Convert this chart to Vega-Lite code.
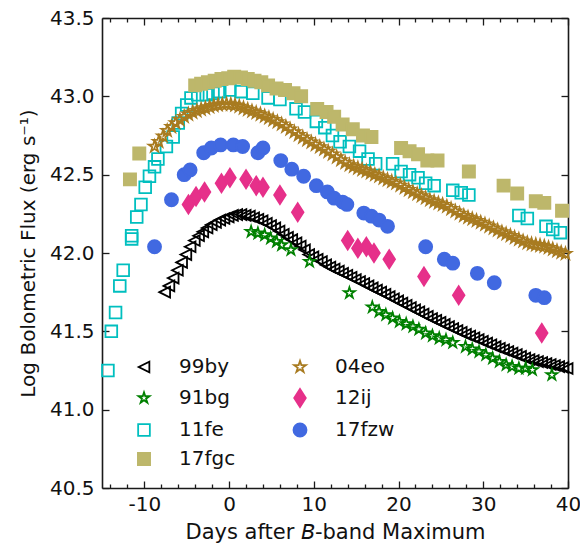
{
  "$schema": "https://vega.github.io/schema/vega-lite/v6.json",
  "width": 466,
  "height": 470,
  "autosize": {"type": "none"},
  "padding": {"left": 102, "top": 18, "right": 12, "bottom": 57},
  "background": "white",
  "data": {
    "values": [
      {"sn":"99by","t":-7.6,"L":41.75},{"sn":"99by","t":-7.1,"L":41.79},{"sn":"99by","t":-6.6,"L":41.84},{"sn":"99by","t":-6.1,"L":41.89},
      {"sn":"99by","t":-5.6,"L":41.94},{"sn":"99by","t":-5.1,"L":41.99},{"sn":"99by","t":-4.6,"L":42.04},{"sn":"99by","t":-4.1,"L":42.08},
      {"sn":"99by","t":-3.6,"L":42.11},{"sn":"99by","t":-3.1,"L":42.135},{"sn":"99by","t":-2.6,"L":42.16},{"sn":"99by","t":-2.1,"L":42.18},
      {"sn":"99by","t":-1.6,"L":42.195},{"sn":"99by","t":-1.1,"L":42.21},{"sn":"99by","t":-0.6,"L":42.22},{"sn":"99by","t":-0.1,"L":42.23},
      {"sn":"99by","t":0.4,"L":42.24},{"sn":"99by","t":0.9,"L":42.245},{"sn":"99by","t":1.4,"L":42.245},{"sn":"99by","t":1.9,"L":42.24},
      {"sn":"99by","t":2.4,"L":42.235},{"sn":"99by","t":2.9,"L":42.225},{"sn":"99by","t":3.4,"L":42.215},{"sn":"99by","t":3.9,"L":42.205},
      {"sn":"99by","t":4.4,"L":42.19},{"sn":"99by","t":4.9,"L":42.175},{"sn":"99by","t":5.4,"L":42.16},{"sn":"99by","t":5.9,"L":42.14},
      {"sn":"99by","t":6.4,"L":42.12},{"sn":"99by","t":6.9,"L":42.1},{"sn":"99by","t":7.4,"L":42.085},{"sn":"99by","t":7.9,"L":42.065},
      {"sn":"99by","t":8.4,"L":42.045},{"sn":"99by","t":8.9,"L":42.02},{"sn":"99by","t":9.4,"L":41.99},{"sn":"99by","t":9.9,"L":41.975},
      {"sn":"99by","t":10.4,"L":41.96},{"sn":"99by","t":10.9,"L":41.945},{"sn":"99by","t":11.4,"L":41.925},{"sn":"99by","t":11.9,"L":41.91},
      {"sn":"99by","t":12.4,"L":41.897},{"sn":"99by","t":12.9,"L":41.884},{"sn":"99by","t":13.4,"L":41.871},{"sn":"99by","t":13.9,"L":41.858},
      {"sn":"99by","t":14.4,"L":41.845},{"sn":"99by","t":14.9,"L":41.831},{"sn":"99by","t":15.4,"L":41.818},{"sn":"99by","t":15.9,"L":41.805},
      {"sn":"99by","t":16.4,"L":41.79},{"sn":"99by","t":16.9,"L":41.777},{"sn":"99by","t":17.4,"L":41.763},{"sn":"99by","t":17.9,"L":41.75},
      {"sn":"99by","t":18.4,"L":41.736},{"sn":"99by","t":18.9,"L":41.722},{"sn":"99by","t":19.4,"L":41.708},{"sn":"99by","t":19.9,"L":41.694},
      {"sn":"99by","t":20.4,"L":41.68},{"sn":"99by","t":20.9,"L":41.666},{"sn":"99by","t":21.4,"L":41.652},{"sn":"99by","t":21.9,"L":41.638},
      {"sn":"99by","t":22.4,"L":41.624},{"sn":"99by","t":22.9,"L":41.61},{"sn":"99by","t":23.4,"L":41.596},{"sn":"99by","t":23.9,"L":41.582},
      {"sn":"99by","t":24.4,"L":41.57},{"sn":"99by","t":24.9,"L":41.557},{"sn":"99by","t":25.4,"L":41.544},{"sn":"99by","t":25.9,"L":41.531},
      {"sn":"99by","t":26.4,"L":41.518},{"sn":"99by","t":26.9,"L":41.505},{"sn":"99by","t":27.4,"L":41.493},{"sn":"99by","t":27.9,"L":41.481},
      {"sn":"99by","t":28.4,"L":41.47},{"sn":"99by","t":28.9,"L":41.459},{"sn":"99by","t":29.4,"L":41.448},{"sn":"99by","t":29.9,"L":41.436},
      {"sn":"99by","t":30.4,"L":41.425},{"sn":"99by","t":30.9,"L":41.414},{"sn":"99by","t":31.4,"L":41.402},{"sn":"99by","t":31.9,"L":41.392},
      {"sn":"99by","t":32.4,"L":41.382},{"sn":"99by","t":32.9,"L":41.371},{"sn":"99by","t":33.4,"L":41.361},{"sn":"99by","t":33.9,"L":41.351},
      {"sn":"99by","t":34.4,"L":41.34},{"sn":"99by","t":34.9,"L":41.33},{"sn":"99by","t":35.4,"L":41.32},{"sn":"99by","t":35.9,"L":41.314},
      {"sn":"99by","t":36.4,"L":41.307},{"sn":"99by","t":36.9,"L":41.301},{"sn":"99by","t":37.4,"L":41.295},{"sn":"99by","t":37.9,"L":41.288},
      {"sn":"99by","t":38.4,"L":41.282},{"sn":"99by","t":38.9,"L":41.275},{"sn":"99by","t":39.4,"L":41.269},{"sn":"99by","t":39.9,"L":41.263},

      {"sn":"91bg","t":2.6,"L":42.136},{"sn":"91bg","t":3.4,"L":42.126},{"sn":"91bg","t":4.2,"L":42.115},{"sn":"91bg","t":4.9,"L":42.094},
      {"sn":"91bg","t":5.6,"L":42.073},{"sn":"91bg","t":6.2,"L":42.051},{"sn":"91bg","t":7.3,"L":42.02},{"sn":"91bg","t":9.5,"L":41.945},
      {"sn":"91bg","t":14.2,"L":41.745},{"sn":"91bg","t":16.9,"L":41.654},{"sn":"91bg","t":17.7,"L":41.626},{"sn":"91bg","t":18.5,"L":41.605},
      {"sn":"91bg","t":19.3,"L":41.584},{"sn":"91bg","t":20.1,"L":41.562},{"sn":"91bg","t":20.9,"L":41.547},{"sn":"91bg","t":21.7,"L":41.53},
      {"sn":"91bg","t":22.4,"L":41.513},{"sn":"91bg","t":23.2,"L":41.488},{"sn":"91bg","t":24.0,"L":41.471},{"sn":"91bg","t":24.8,"L":41.456},
      {"sn":"91bg","t":25.6,"L":41.445},{"sn":"91bg","t":26.4,"L":41.428},{"sn":"91bg","t":27.9,"L":41.402},{"sn":"91bg","t":28.7,"L":41.386},
      {"sn":"91bg","t":29.5,"L":41.37},{"sn":"91bg","t":30.3,"L":41.35},{"sn":"91bg","t":31.1,"L":41.328},{"sn":"91bg","t":31.9,"L":41.307},
      {"sn":"91bg","t":32.7,"L":41.286},{"sn":"91bg","t":33.4,"L":41.275},{"sn":"91bg","t":34.2,"L":41.264},{"sn":"91bg","t":35.0,"L":41.264},
      {"sn":"91bg","t":35.8,"L":41.254},{"sn":"91bg","t":38.1,"L":41.222},

      {"sn":"11fe","t":-14.3,"L":41.25},{"sn":"11fe","t":-13.9,"L":41.5},{"sn":"11fe","t":-13.4,"L":41.62},{"sn":"11fe","t":-12.9,"L":41.79},
      {"sn":"11fe","t":-12.5,"L":41.89},{"sn":"11fe","t":-11.5,"L":42.09},{"sn":"11fe","t":-11.5,"L":42.11},{"sn":"11fe","t":-10.9,"L":42.23},
      {"sn":"11fe","t":-10.4,"L":42.31},{"sn":"11fe","t":-9.9,"L":42.42},{"sn":"11fe","t":-9.4,"L":42.49},{"sn":"11fe","t":-8.8,"L":42.55},
      {"sn":"11fe","t":-8.4,"L":42.6},{"sn":"11fe","t":-7.4,"L":42.68},{"sn":"11fe","t":-6.6,"L":42.74},{"sn":"11fe","t":-6.0,"L":42.83},
      {"sn":"11fe","t":-5.6,"L":42.89},{"sn":"11fe","t":-5.0,"L":42.945},{"sn":"11fe","t":-4.5,"L":42.99},{"sn":"11fe","t":-3.7,"L":43.01},
      {"sn":"11fe","t":-2.7,"L":43.01},{"sn":"11fe","t":-1.9,"L":43.02},{"sn":"11fe","t":-1.1,"L":43.03},{"sn":"11fe","t":0.1,"L":43.04},
      {"sn":"11fe","t":1.4,"L":43.03},{"sn":"11fe","t":2.8,"L":43.02},{"sn":"11fe","t":4.6,"L":42.99},{"sn":"11fe","t":6.0,"L":42.98},
      {"sn":"11fe","t":7.9,"L":42.92},{"sn":"11fe","t":8.9,"L":42.9},{"sn":"11fe","t":10.3,"L":42.84},{"sn":"11fe","t":11.3,"L":42.8},
      {"sn":"11fe","t":12.2,"L":42.75},{"sn":"11fe","t":13.1,"L":42.71},{"sn":"11fe","t":14.2,"L":42.68},{"sn":"11fe","t":15.4,"L":42.65},
      {"sn":"11fe","t":16.4,"L":42.6},{"sn":"11fe","t":17.3,"L":42.57},{"sn":"11fe","t":19.3,"L":42.57},{"sn":"11fe","t":20.3,"L":42.52},
      {"sn":"11fe","t":21.3,"L":42.5},{"sn":"11fe","t":22.3,"L":42.48},{"sn":"11fe","t":23.2,"L":42.445},{"sn":"11fe","t":24.2,"L":42.43},
      {"sn":"11fe","t":26.4,"L":42.4},{"sn":"11fe","t":27.4,"L":42.385},{"sn":"11fe","t":28.3,"L":42.37},{"sn":"11fe","t":34.2,"L":42.24},
      {"sn":"11fe","t":35.2,"L":42.22},{"sn":"11fe","t":37.4,"L":42.17},{"sn":"11fe","t":38.2,"L":42.15},{"sn":"11fe","t":39.1,"L":42.13},

      {"sn":"17fgc","t":-11.7,"L":42.47},{"sn":"17fgc","t":-10.6,"L":42.635},{"sn":"17fgc","t":-4.0,"L":43.07},{"sn":"17fgc","t":-3.3,"L":43.08},
      {"sn":"17fgc","t":-2.5,"L":43.09},{"sn":"17fgc","t":-1.7,"L":43.1},{"sn":"17fgc","t":-0.9,"L":43.11},{"sn":"17fgc","t":-0.1,"L":43.115},
      {"sn":"17fgc","t":0.6,"L":43.125},{"sn":"17fgc","t":1.4,"L":43.12},{"sn":"17fgc","t":2.2,"L":43.11},{"sn":"17fgc","t":3.0,"L":43.1},
      {"sn":"17fgc","t":3.8,"L":43.09},{"sn":"17fgc","t":4.6,"L":43.07},{"sn":"17fgc","t":5.6,"L":43.05},{"sn":"17fgc","t":6.6,"L":43.04},
      {"sn":"17fgc","t":7.6,"L":43.02},{"sn":"17fgc","t":8.5,"L":43.0},{"sn":"17fgc","t":10.4,"L":42.92},{"sn":"17fgc","t":11.5,"L":42.9},
      {"sn":"17fgc","t":12.4,"L":42.87},{"sn":"17fgc","t":13.4,"L":42.82},{"sn":"17fgc","t":14.6,"L":42.79},{"sn":"17fgc","t":15.8,"L":42.75},
      {"sn":"17fgc","t":16.8,"L":42.74},{"sn":"17fgc","t":20.3,"L":42.67},{"sn":"17fgc","t":21.3,"L":42.65},{"sn":"17fgc","t":22.3,"L":42.63},
      {"sn":"17fgc","t":23.4,"L":42.59},{"sn":"17fgc","t":24.6,"L":42.59},{"sn":"17fgc","t":28.3,"L":42.52},{"sn":"17fgc","t":32.4,"L":42.43},
      {"sn":"17fgc","t":34.0,"L":42.38},{"sn":"17fgc","t":36.2,"L":42.33},{"sn":"17fgc","t":37.2,"L":42.32},{"sn":"17fgc","t":39.3,"L":42.27},

      {"sn":"04eo","t":-8.8,"L":42.68},{"sn":"04eo","t":-8.3,"L":42.71},{"sn":"04eo","t":-7.8,"L":42.745},{"sn":"04eo","t":-7.3,"L":42.78},
      {"sn":"04eo","t":-6.8,"L":42.805},{"sn":"04eo","t":-6.3,"L":42.83},{"sn":"04eo","t":-5.8,"L":42.85},{"sn":"04eo","t":-5.3,"L":42.87},
      {"sn":"04eo","t":-4.8,"L":42.885},{"sn":"04eo","t":-4.3,"L":42.897},{"sn":"04eo","t":-3.8,"L":42.907},{"sn":"04eo","t":-3.3,"L":42.917},
      {"sn":"04eo","t":-2.8,"L":42.925},{"sn":"04eo","t":-2.3,"L":42.932},{"sn":"04eo","t":-1.8,"L":42.94},{"sn":"04eo","t":-1.3,"L":42.945},
      {"sn":"04eo","t":-0.8,"L":42.948},{"sn":"04eo","t":-0.3,"L":42.95},{"sn":"04eo","t":0.2,"L":42.948},{"sn":"04eo","t":0.7,"L":42.943},
      {"sn":"04eo","t":1.2,"L":42.935},{"sn":"04eo","t":1.7,"L":42.925},{"sn":"04eo","t":2.2,"L":42.915},{"sn":"04eo","t":2.7,"L":42.905},
      {"sn":"04eo","t":3.2,"L":42.895},{"sn":"04eo","t":3.7,"L":42.885},{"sn":"04eo","t":4.2,"L":42.873},{"sn":"04eo","t":4.7,"L":42.862},
      {"sn":"04eo","t":5.2,"L":42.85},{"sn":"04eo","t":5.7,"L":42.836},{"sn":"04eo","t":6.2,"L":42.822},{"sn":"04eo","t":6.7,"L":42.806},
      {"sn":"04eo","t":7.2,"L":42.79},{"sn":"04eo","t":7.7,"L":42.772},{"sn":"04eo","t":8.2,"L":42.754},{"sn":"04eo","t":8.7,"L":42.738},
      {"sn":"04eo","t":9.2,"L":42.722},{"sn":"04eo","t":9.7,"L":42.707},{"sn":"04eo","t":10.2,"L":42.692},{"sn":"04eo","t":10.7,"L":42.677},
      {"sn":"04eo","t":11.2,"L":42.662},{"sn":"04eo","t":11.7,"L":42.647},{"sn":"04eo","t":12.2,"L":42.63},{"sn":"04eo","t":12.7,"L":42.612},
      {"sn":"04eo","t":13.2,"L":42.594},{"sn":"04eo","t":13.7,"L":42.577},{"sn":"04eo","t":14.2,"L":42.562},{"sn":"04eo","t":14.7,"L":42.552},
      {"sn":"04eo","t":15.2,"L":42.542},{"sn":"04eo","t":15.7,"L":42.532},{"sn":"04eo","t":16.2,"L":42.522},{"sn":"04eo","t":16.7,"L":42.511},
      {"sn":"04eo","t":17.2,"L":42.5},{"sn":"04eo","t":17.7,"L":42.49},{"sn":"04eo","t":18.2,"L":42.478},{"sn":"04eo","t":18.7,"L":42.467},
      {"sn":"04eo","t":19.2,"L":42.456},{"sn":"04eo","t":19.7,"L":42.445},{"sn":"04eo","t":20.2,"L":42.431},{"sn":"04eo","t":20.7,"L":42.417},
      {"sn":"04eo","t":21.2,"L":42.403},{"sn":"04eo","t":21.7,"L":42.39},{"sn":"04eo","t":22.2,"L":42.377},{"sn":"04eo","t":22.7,"L":42.364},
      {"sn":"04eo","t":23.2,"L":42.351},{"sn":"04eo","t":23.7,"L":42.338},{"sn":"04eo","t":24.2,"L":42.328},{"sn":"04eo","t":24.7,"L":42.318},
      {"sn":"04eo","t":25.2,"L":42.308},{"sn":"04eo","t":25.7,"L":42.297},{"sn":"04eo","t":26.2,"L":42.282},{"sn":"04eo","t":26.7,"L":42.267},
      {"sn":"04eo","t":27.2,"L":42.252},{"sn":"04eo","t":27.7,"L":42.238},{"sn":"04eo","t":28.2,"L":42.227},{"sn":"04eo","t":28.7,"L":42.217},
      {"sn":"04eo","t":29.2,"L":42.206},{"sn":"04eo","t":29.7,"L":42.195},{"sn":"04eo","t":30.2,"L":42.183},{"sn":"04eo","t":30.7,"L":42.17},
      {"sn":"04eo","t":31.2,"L":42.158},{"sn":"04eo","t":31.7,"L":42.145},{"sn":"04eo","t":32.2,"L":42.133},{"sn":"04eo","t":32.7,"L":42.121},
      {"sn":"04eo","t":33.2,"L":42.11},{"sn":"04eo","t":33.7,"L":42.098},{"sn":"04eo","t":34.2,"L":42.087},{"sn":"04eo","t":34.7,"L":42.075},
      {"sn":"04eo","t":35.2,"L":42.064},{"sn":"04eo","t":35.7,"L":42.057},{"sn":"04eo","t":36.2,"L":42.052},{"sn":"04eo","t":36.7,"L":42.047},
      {"sn":"04eo","t":37.2,"L":42.042},{"sn":"04eo","t":37.7,"L":42.034},{"sn":"04eo","t":38.2,"L":42.024},{"sn":"04eo","t":38.7,"L":42.013},
      {"sn":"04eo","t":39.2,"L":42.003},{"sn":"04eo","t":39.7,"L":41.995},

      {"sn":"12ij","t":-4.8,"L":42.31},{"sn":"12ij","t":-3.9,"L":42.36},{"sn":"12ij","t":-2.9,"L":42.39},{"sn":"12ij","t":-0.9,"L":42.445},
      {"sn":"12ij","t":0.1,"L":42.48},{"sn":"12ij","t":2.0,"L":42.47},{"sn":"12ij","t":3.2,"L":42.43},{"sn":"12ij","t":4.0,"L":42.42},
      {"sn":"12ij","t":6.0,"L":42.37},{"sn":"12ij","t":8.1,"L":42.26},{"sn":"12ij","t":14.0,"L":42.08},{"sn":"12ij","t":15.2,"L":42.03},
      {"sn":"12ij","t":16.2,"L":42.04},{"sn":"12ij","t":17.1,"L":42.0},{"sn":"12ij","t":18.9,"L":41.96},{"sn":"12ij","t":23.0,"L":41.85},
      {"sn":"12ij","t":27.1,"L":41.73},{"sn":"12ij","t":36.9,"L":41.49},

      {"sn":"17fzw","t":-8.8,"L":42.04},{"sn":"17fzw","t":-6.8,"L":42.34},{"sn":"17fzw","t":-5.3,"L":42.5},{"sn":"17fzw","t":-4.6,"L":42.53},
      {"sn":"17fzw","t":-3.0,"L":42.64},{"sn":"17fzw","t":-2.1,"L":42.67},{"sn":"17fzw","t":-1.0,"L":42.69},{"sn":"17fzw","t":0.5,"L":42.69},
      {"sn":"17fzw","t":1.6,"L":42.68},{"sn":"17fzw","t":3.4,"L":42.64},{"sn":"17fzw","t":4.0,"L":42.67},{"sn":"17fzw","t":6.1,"L":42.59},
      {"sn":"17fzw","t":7.4,"L":42.535},{"sn":"17fzw","t":8.8,"L":42.49},{"sn":"17fzw","t":10.3,"L":42.43},{"sn":"17fzw","t":11.6,"L":42.39},
      {"sn":"17fzw","t":12.4,"L":42.35},{"sn":"17fzw","t":13.4,"L":42.325},{"sn":"17fzw","t":13.9,"L":42.31},{"sn":"17fzw","t":15.9,"L":42.255},
      {"sn":"17fzw","t":16.8,"L":42.235},{"sn":"17fzw","t":17.7,"L":42.21},{"sn":"17fzw","t":18.7,"L":42.17},{"sn":"17fzw","t":23.2,"L":42.04},
      {"sn":"17fzw","t":25.4,"L":41.96},{"sn":"17fzw","t":26.4,"L":41.935},{"sn":"17fzw","t":29.3,"L":41.87},{"sn":"17fzw","t":31.3,"L":41.81},
      {"sn":"17fzw","t":36.2,"L":41.73},{"sn":"17fzw","t":37.2,"L":41.715}
    ]
  },
  "layer": [
    {
      "mark": {"type": "point", "filled": true, "opacity": 1, "strokeWidth": 1.8},
      "encoding": {
        "x": {
          "field": "t", "type": "quantitative",
          "scale": {"domain": [-15, 40], "nice": false, "zero": false},
          "axis": {
            "orient": "bottom", "values": [-10, 0, 10, 20, 30, 40], "ticks": false,
            "labelPadding": 6,
            "labelExpr": "(datum.value < 0 ? '-' : '') + abs(datum.value)",
            "title": "Days after 𝘉-band Maximum", "titlePadding": 7, "titleFontSize": 21
          }
        },
        "y": {
          "field": "L", "type": "quantitative",
          "scale": {"domain": [40.5, 43.5], "nice": false, "zero": false},
          "axis": {
            "orient": "left", "values": [40.5, 41, 41.5, 42, 42.5, 43, 43.5], "ticks": false,
            "format": ".1f", "labelPadding": 8,
            "title": "Log Bolometric Flux (erg s⁻¹)", "titlePadding": 11
          }
        },
        "shape": {
          "field": "sn", "type": "nominal",
          "scale": {
            "domain": ["99by", "91bg", "11fe", "17fgc", "04eo", "12ij", "17fzw"],
            "range": [
              "M-1,0L1,-1L1,1Z",
              "M0,-1L0.2245,-0.309L0.9511,-0.309L0.3633,0.118L0.5878,0.809L0,0.382L-0.5878,0.809L-0.3633,0.118L-0.9511,-0.309L-0.2245,-0.309Z",
              "square",
              "square",
              "M0,-1L0.2245,-0.309L0.9511,-0.309L0.3633,0.118L0.5878,0.809L0,0.382L-0.5878,0.809L-0.3633,0.118L-0.9511,-0.309L-0.2245,-0.309Z",
              "M0,-1L0.64,0L0,1L-0.64,0Z",
              "circle"
            ]
          },
          "legend": {
            "title": null, "orient": "none", "legendX": 32, "legendY": 339,
            "columns": 2, "columnPadding": 53, "rowPadding": 8,
            "labelOffset": 25, "labelFontSize": 20, "labelLimit": 0,
            "symbolStrokeWidth": 1.8, "padding": 0
          }
        },
        "stroke": {
          "field": "sn", "type": "nominal",
          "scale": {
            "domain": ["99by", "91bg", "11fe", "17fgc", "04eo", "12ij", "17fzw"],
            "range": ["#000000", "#008000", "#00bfbf", "#bdb76b", "#a87b20", "#e6308a", "#4169e1"]
          }
        },
        "fill": {
          "field": "sn", "type": "nominal",
          "scale": {
            "domain": ["99by", "91bg", "11fe", "17fgc", "04eo", "12ij", "17fzw"],
            "range": ["transparent", "transparent", "transparent", "#bdb76b", "transparent", "#e6308a", "#4169e1"]
          }
        },
        "size": {
          "field": "sn", "type": "nominal",
          "scale": {
            "type": "ordinal",
            "domain": ["99by", "91bg", "11fe", "17fgc", "04eo", "12ij", "17fzw"],
            "range": [115, 130, 137, 148, 150, 330, 170]
          }
        }
      }
    },
    {
      "mark": {"type": "point", "opacity": 0},
      "encoding": {
        "x": {"field": "t", "type": "quantitative", "scale": {"domain": [-15, 40], "nice": false, "zero": false},
              "axis": {"orient": "top", "values": [-10, 0, 10, 20, 30, 40], "ticks": false, "labels": false, "title": null}},
        "y": {"field": "L", "type": "quantitative", "scale": {"domain": [40.5, 43.5], "nice": false, "zero": false},
              "axis": {"orient": "right", "values": [41, 42, 43], "ticks": false, "labels": false, "title": null}}
      }
    },
    {
      "mark": {"type": "point", "opacity": 0},
      "encoding": {
        "x": {"field": "t", "type": "quantitative", "scale": {"domain": [-15, 40], "nice": false, "zero": false},
              "axis": {"orient": "bottom", "values": [-10, 0, 10, 20, 30, 40], "domain": false, "labels": false, "title": null, "tickSize": 7, "offset": -7}},
        "y": {"field": "L", "type": "quantitative", "scale": {"domain": [40.5, 43.5], "nice": false, "zero": false},
              "axis": {"orient": "left", "values": [40.5, 41, 41.5, 42, 42.5, 43, 43.5], "domain": false, "labels": false, "title": null, "tickSize": 7, "offset": -7}}
      }
    },
    {
      "mark": {"type": "point", "opacity": 0},
      "encoding": {
        "x": {"field": "t", "type": "quantitative", "scale": {"domain": [-15, 40], "nice": false, "zero": false},
              "axis": {"orient": "top", "values": [-10, 0, 10, 20, 30, 40], "domain": false, "labels": false, "title": null, "tickSize": 7, "offset": -7}},
        "y": {"field": "L", "type": "quantitative", "scale": {"domain": [40.5, 43.5], "nice": false, "zero": false},
              "axis": {"orient": "right", "values": [40.5, 41, 41.5, 42, 42.5, 43, 43.5], "domain": false, "labels": false, "title": null, "tickSize": 7, "offset": -7}}
      }
    },
    {
      "mark": {"type": "point", "opacity": 0},
      "encoding": {
        "x": {"field": "t", "type": "quantitative", "scale": {"domain": [-15, 40], "nice": false, "zero": false},
              "axis": {"orient": "bottom", "values": [-14, -12, -8, -6, -4, -2, 2, 4, 6, 8, 12, 14, 16, 18, 22, 24, 26, 28, 32, 34, 36, 38], "domain": false, "labels": false, "title": null, "tickSize": 4, "offset": -4}},
        "y": {"field": "L", "type": "quantitative", "scale": {"domain": [40.5, 43.5], "nice": false, "zero": false}, "axis": null}
      }
    },
    {
      "mark": {"type": "point", "opacity": 0},
      "encoding": {
        "x": {"field": "t", "type": "quantitative", "scale": {"domain": [-15, 40], "nice": false, "zero": false},
              "axis": {"orient": "top", "values": [-14, -12, -8, -6, -4, -2, 2, 4, 6, 8, 12, 14, 16, 18, 22, 24, 26, 28, 32, 34, 36, 38], "domain": false, "labels": false, "title": null, "tickSize": 4, "offset": -4}},
        "y": {"field": "L", "type": "quantitative", "scale": {"domain": [40.5, 43.5], "nice": false, "zero": false}, "axis": null}
      }
    }
  ],
  "resolve": {"axis": {"x": "independent", "y": "independent"}},
  "config": {
    "font": "DejaVu Sans",
    "view": {"stroke": null},
    "axis": {
      "grid": false,
      "domainColor": "#1a1a1a", "domainWidth": 1.6,
      "tickColor": "#1a1a1a", "tickWidth": 1.3,
      "labelColor": "#111111", "labelFont": "DejaVu Sans", "labelFontSize": 20,
      "titleColor": "#111111", "titleFont": "DejaVu Sans", "titleFontSize": 20, "titleFontWeight": "normal",
      "labelOverlap": false, "labelFlush": false
    },
    "legend": {"labelFont": "DejaVu Sans", "labelFontSize": 20, "labelColor": "#111111"}
  }
}
